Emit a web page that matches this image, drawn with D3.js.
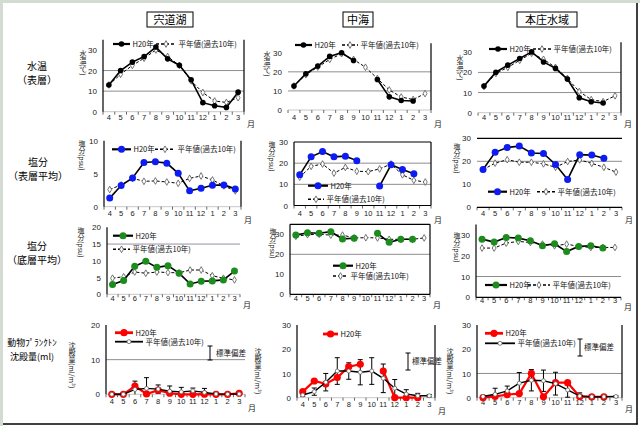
<!DOCTYPE html>
<html><head><meta charset="utf-8">
<script src="https://cdn.jsdelivr.net/npm/d3@7"></script>
<style>
html,body{margin:0;padding:0;background:#fff;}
svg{display:block;}
</style></head>
<body>
<svg id="chart" width="640" height="426"></svg>
<script>
// ---------- data ----------
const months = ["4","5","6","7","8","9","10","11","12","1","2","3"];
const areaNames = ["宍道湖","中海","本庄水域"];
const rowLabels = [["水温","（表層）"],["塩分","（表層平均）"],["塩分","（底層平均）"],["動物ﾌﾟﾗﾝｸﾄﾝ","沈殿量(ml)"]];
const yTitles = ["水温(℃)","塩分(psu)","塩分(psu)","沈殿量(ml/m³)"];
const legendThisYear = "H20年";
const legendNormal = "平年値(過去10年)";
const sdLabel = "標準偏差";
const monthUnit = "月";

// water temperature (surface)
const shinjiTempH20 = [13.0,20.0,24.1,26.8,31.4,25.7,22.6,15.5,4.4,2.9,2.1,9.5];
const shinjiTempAvg = [13.0,18.2,22.5,26.0,30.0,26.8,22.5,15.0,9.3,5.2,4.5,6.8];
const nakaumiTempH20 = [12.6,19.0,23.0,28.1,30.0,25.9,null,16.0,6.9,5.0,4.7,null];
const nakaumiTempAvg = [12.6,18.5,22.5,26.5,29.5,26.5,22.4,16.5,10.5,6.8,5.5,8.6];
const honjoTempH20 = [13.2,20.1,23.6,26.9,30.2,25.2,22.0,16.7,7.4,5.4,4.8,null];
const honjoTempAvg = [13.0,19.5,22.5,26.0,29.5,26.5,22.5,17.0,10.5,6.5,5.5,8.4];

// salinity (surface mean)
const shinjiSalSH20 = [1.3,3.2,4.35,6.7,6.8,6.6,5.05,2.4,2.8,3.25,3.3,2.7];
const shinjiSalSAvg = [2.6,3.3,4.3,3.85,3.9,3.75,3.55,4.3,4.65,4.05,3.15,2.4];
const nakaumiSalSH20 = [14.5,23.0,25.5,23.0,23.3,21.2,null,9.2,19.2,17.0,15.0,null];
const nakaumiSalSAvg = [13.4,18.5,19.6,15.3,18.0,16.2,16.0,17.3,19.6,14.5,11.9,11.1];
const honjoSalSH20 = [16.4,23.9,26.0,26.6,23.6,23.4,18.6,12.1,22.9,22.7,21.3,null];
const honjoSalSAvg = [16.4,19.2,20.7,19.6,19.6,18.9,17.4,19.9,20.6,19.1,17.4,15.3];

// salinity (bottom mean)
const shinjiSalBH20 = [2.9,4.1,8.4,9.85,8.05,8.55,6.3,3.1,3.9,4.0,4.3,6.95];
const shinjiSalBAvg = [4.8,5.25,6.65,6.3,6.65,6.5,6.4,7.25,7.25,5.55,4.8,4.3];
const nakaumiSalBH20 = [29.6,30.8,30.5,31.3,27.7,28.0,null,30.5,26.0,27.5,27.5,null];
const nakaumiSalBAvg = [29.0,29.8,30.0,29.6,29.6,28.2,28.3,28.2,27.5,27.5,27.5,28.2];
const honjoSalBH20 = [28.0,26.6,28.8,28.5,27.2,24.8,25.8,22.0,24.5,24.8,23.7,null];
const honjoSalBAvg = [23.7,23.7,26.1,26.9,26.4,25.6,24.8,25.6,24.5,24.0,24.0,24.0];

// zooplankton settled volume
const shinjiPlkH20 = [0,0,2.4,0.1,1.2,0.3,0,0,0.05,0,0,0.3];
const shinjiPlkAvg = [0,0,1.4,1.7,1.5,0.9,0.7,1.0,0.55,0.1,0.05,0.1];
const shinjiPlkSD  = [0,0,2.4,3.1,1.2,1.5,1.3,0.8,1.15,0.1,0.05,0.1];
const nakaumiPlkH20 = [2.5,6.9,5.7,8.3,12.8,13.8,null,11.0,0,0,0,null];
const nakaumiPlkAvg = [1.1,2.5,6.4,11.0,11.0,10.5,11.0,8.0,3.9,1.5,0.8,0.8];
const nakaumiPlkSD  = [0.5,1.5,3.6,5.5,3.4,5.2,5.5,5.9,3.6,1.8,1.0,0.5];
const honjoPlkH20 = [0,0.5,1.3,1.7,10.0,0.4,6.2,6.2,0.4,0.3,0.3,null];
const honjoPlkAvg = [0.5,1.4,2.8,6.0,7.2,7.0,5.8,3.2,0.7,0.4,0.4,0.5];
const honjoPlkSD  = [0.3,2.5,2.0,4.4,4.4,4.4,4.7,3.0,1.3,0.3,0.3,0.3];

// axis tick values
const ticksTemp = [0,10,20,30];
const ticksSal10 = [0,5,10];
const ticksSal30 = [0,10,20,30];
const ticksBot20 = [0,5,10,15,20];
const ticksPlk20 = [0,10,20];
const ticksPlk30 = [0,10,20,30];

// ---------- drawing ----------
const FONT = "'Noto Sans CJK JP','Liberation Sans',sans-serif";
const NUMFONT = "'Liberation Sans','Noto Sans',sans-serif";
const svg = d3.select("#chart");

// frame
svg.append("rect").attr("x",0).attr("y",0).attr("width",640).attr("height",426).attr("fill","#fff");
svg.append("rect").attr("x",0).attr("y",0).attr("width",640).attr("height",3).attr("fill","#d3dbd3");
svg.append("rect").attr("x",0).attr("y",0).attr("width",3).attr("height",426).attr("fill","#d3dbd3");
svg.append("line").attr("x1",637).attr("x2",637).attr("y1",3).attr("y2",424.5).attr("stroke","#000").attr("stroke-width",1.5);
svg.append("line").attr("x1",3).attr("x2",637.7).attr("y1",424).attr("y2",424).attr("stroke","#000").attr("stroke-width",1.5);

// column titles
const titleBoxes = [{x:147,y:12,w:46,h:15},{x:343,y:12,w:30,h:15},{x:517,y:12,w:60,h:15}];
areaNames.forEach((n,i)=>{
  const b = titleBoxes[i];
  svg.append("rect").attr("x",b.x).attr("y",b.y).attr("width",b.w).attr("height",b.h)
    .attr("fill","#fff").attr("stroke","#000").attr("stroke-width",1);
  svg.append("text").attr("x",b.x+b.w/2).attr("y",b.y+b.h/2+4).attr("text-anchor","middle")
    .attr("font-family",FONT).attr("font-size",11).text(n);
});

// row labels
const rowLabelPos = [{x:37,y:[66,80]},{x:38,y:[162,176]},{x:37,y:[246,260]},{x:32,y:[342,356]}];
rowLabels.forEach((l,i)=>{
  l.forEach((t,j)=>{
    svg.append("text").attr("x",rowLabelPos[i].x).attr("y",rowLabelPos[i].y[j]+3.5).attr("text-anchor","middle")
      .attr("font-family",FONT).attr("font-size",i===3?9:10).text(t);
  });
});

const styles = {
  temp:{color:"#000", r:2.8, line:"#000", lw:1.6, avgDash:"3,2", avgLw:1, avgMarker:"diamond"},
  salS:{color:"#0d1cf2", r:3.5, line:"#000", lw:1.6, avgDash:"3,2", avgLw:1, avgMarker:"diamond"},
  salB:{color:"#1c8c1c", r:3.5, line:"#000", lw:1.6, avgDash:"3,2", avgLw:1, avgMarker:"diamond"},
  plk:{color:"#ff0000", r:3.6, line:"#ff0000", lw:2.2, avgDash:null, avgLw:1.4, avgMarker:"circle"}
};

const panels = [
  // row 1
  {kind:"temp", h20:shinjiTempH20, avg:shinjiTempAvg, domain:[0,35], ticks:ticksTemp, x0:103,x1:244,yBot:111.7,yTop:39.7, grid:[10,20], borders:["left","right"], xLab:119, yt:{x:83,y:50,t:yTitles[0]},
   legend:[{x:113,y:44,len:17,s:0},{x:156,y:44,len:20,s:1}]},
  {kind:"temp", h20:nakaumiTempH20, avg:nakaumiTempAvg, domain:[0,35], ticks:ticksTemp, x0:288,x1:431,yBot:110,yTop:43.2, grid:[10,20], borders:["right"], xLab:119, yt:{x:267,y:51,t:yTitles[0]},
   legend:[{x:295,y:45,len:17,s:0},{x:342,y:45,len:16,s:1}]},
  {kind:"temp", h20:honjoTempH20, avg:honjoTempAvg, domain:[0,35], ticks:ticksTemp, x0:478,x1:621,yBot:112.7,yTop:42.2, grid:[10,20], borders:["right"], xLab:119, yt:{x:460,y:55,t:yTitles[0]},
   legend:[{x:489,y:49,len:18,s:0},{x:533,y:49,len:18,s:1}]},
  // row 2
  {kind:"salS", h20:shinjiSalSH20, avg:shinjiSalSAvg, domain:[0,10], ticks:ticksSal10, x0:104,x1:241,yBot:206.7,yTop:140.7, grid:[], borders:["left","right"], xLab:215, yt:{x:82,y:140,t:yTitles[1]},
   legend:[{x:112,y:149.3,len:19,s:0},{x:155,y:149.3,len:20,s:1}]},
  {kind:"salS", h20:nakaumiSalSH20, avg:nakaumiSalSAvg, domain:[0,30], ticks:ticksSal30, x0:294,x1:431,yBot:205.5,yTop:142, grid:[10,20], borders:["left","right","top","bottom"], xLab:215, yt:{x:272,y:141,t:yTitles[1]},
   legend:[{x:308,y:185.7,len:20,s:0},{x:308,y:199.3,len:16,s:1}]},
  {kind:"salS", h20:honjoSalSH20, avg:honjoSalSAvg, domain:[0,30], ticks:ticksSal30, x0:477,x1:622,yBot:207.3,yTop:138.3, grid:[20], borders:["top","bottom"], xLab:215, yt:{x:457,y:143,t:yTitles[1]},
   legend:[{x:488,y:191.7,len:19,s:0},{x:537,y:191.7,len:18,s:1}]},
  // row 3
  {kind:"salB", h20:shinjiSalBH20, avg:shinjiSalBAvg, domain:[0,20], ticks:ticksBot20, x0:107,x1:240,yBot:294.3,yTop:227.3, grid:[15], gridColor:"#9a8ea6", borders:["left"], xLab:300, yt:{x:81,y:227,t:yTitles[2]},
   legend:[{x:113,y:235.7,len:20,s:0},{x:113,y:249.3,len:17,s:1}]},
  {kind:"salB", h20:nakaumiSalBH20, avg:nakaumiSalBAvg, domain:[0,35], ticks:ticksSal30, x0:290,x1:430,yBot:294.3,yTop:224.3, grid:[20], borders:["left","right","top","bottom"], xLab:300, yt:{x:273,y:228,t:yTitles[2]},
   legend:[{x:333,y:265.7,len:20,s:0},{x:333,y:276,len:15,s:1}]},
  {kind:"salB", h20:honjoSalBH20, avg:honjoSalBAvg, domain:[0,35], ticks:ticksSal30, x0:476,x1:621,yBot:297.3,yTop:224.6, grid:[10], borders:["left","bottom"], xLab:302, yt:{x:457,y:232,t:yTitles[2]},
   legend:[{x:485,y:285,len:22,s:0},{x:528,y:285,len:22,s:1}]},
  // row 4
  {kind:"plk", h20:shinjiPlkH20, avg:shinjiPlkAvg, sd:shinjiPlkSD, domain:[0,20], ticks:ticksPlk20, x0:106,x1:245,yBot:394.3,yTop:325, grid:[10], borders:["left"], xLab:403, yt:{x:72,y:342,t:yTitles[3]},
   legend:[{x:115,y:332.7,len:18,s:0},{x:115,y:341.7,len:28,s:1}], sdLeg:{x:210,y1:346,y2:360,tx:216,ty:356}},
  {kind:"plk", h20:nakaumiPlkH20, avg:nakaumiPlkAvg, sd:nakaumiPlkSD, domain:[0,30], ticks:ticksPlk30, x0:297,x1:435,yBot:397.7,yTop:325, grid:[], borders:["left","right"], xLab:406, yt:{x:258,y:348,t:yTitles[3]},
   legend:[{x:323,y:334,len:15,s:0}], sdLeg:{x:408,y1:353,y2:370,tx:412,ty:364}},
  {kind:"plk", h20:honjoPlkH20, avg:honjoPlkAvg, sd:honjoPlkSD, domain:[0,30], ticks:ticksPlk30, x0:477,x1:622,yBot:397.7,yTop:325, grid:[10], borders:["left","right"], xLab:404, yt:{x:450,y:348,t:yTitles[3]},
   legend:[{x:485,y:333.3,len:18,s:0},{x:485,y:343.3,len:30,s:1}], sdLeg:{x:580,y1:339,y2:356,tx:584,ty:350}}
];

function drawMarker(g, series, cx, cy, st){
  if(series===0){
    g.append("circle").attr("cx",cx).attr("cy",cy).attr("r",st.r).attr("fill",st.color);
  } else if(st.avgMarker==="diamond"){
    g.append("path").attr("d",d3.symbol(d3.symbolDiamond,13)()).attr("transform",`translate(${cx},${cy})`)
      .attr("fill","#fff").attr("stroke","#555").attr("stroke-width",0.8);
  } else {
    g.append("circle").attr("cx",cx).attr("cy",cy).attr("r",2).attr("fill","#fff").attr("stroke","#666").attr("stroke-width",0.8);
  }
}

panels.forEach(p=>{
  const st = styles[p.kind];
  const g = svg.append("g");
  const x = d3.scaleBand().domain(months).range([p.x0,p.x1]);
  const y = d3.scaleLinear().domain(p.domain).range([p.yBot,p.yTop]);
  const cx = m => x(m)+x.bandwidth()/2;

  // gridlines
  p.grid.forEach(v=>{
    g.append("line").attr("x1",p.x0).attr("x2",p.x1).attr("y1",y(v)).attr("y2",y(v))
      .attr("stroke",p.gridColor||"#8e8e8e").attr("stroke-width",1);
  });
  // baseline (faint) + ticks between categories
  if(!p.borders.includes("bottom")){
    g.append("line").attr("x1",p.x0).attr("x2",p.x1).attr("y1",p.yBot).attr("y2",p.yBot).attr("stroke","#c8c8c8").attr("stroke-width",1);
  }
  months.forEach(m=>{
    g.append("line").attr("x1",x(m)).attr("x2",x(m)).attr("y1",p.yBot).attr("y2",p.yBot+3).attr("stroke","#444").attr("stroke-width",0.8);
  });
  g.append("line").attr("x1",p.x1).attr("x2",p.x1).attr("y1",p.yBot).attr("y2",p.yBot+3).attr("stroke","#444").attr("stroke-width",0.8);

  // borders
  const bl = {left:[p.x0,p.yTop,p.x0,p.yBot], right:[p.x1,p.yTop,p.x1,p.yBot], top:[p.x0,p.yTop,p.x1,p.yTop], bottom:[p.x0,p.yBot,p.x1,p.yBot]};
  p.borders.forEach(b=>{
    const c = bl[b];
    g.append("line").attr("x1",c[0]).attr("y1",c[1]).attr("x2",c[2]).attr("y2",c[3]).attr("stroke","#000").attr("stroke-width",1.2);
  });

  // y axis labels
  const ya = d3.axisLeft(y).tickValues(p.ticks).tickSize(0).tickPadding(6);
  const yg = g.append("g").attr("transform",`translate(${p.x0},0)`).call(ya);
  yg.select(".domain").remove();
  yg.selectAll("text").attr("font-family",NUMFONT).attr("font-size",8).attr("fill","#222");

  // x axis labels
  const xa = d3.axisBottom(x).tickSize(0).tickPadding(0);
  const xg = g.append("g").attr("transform",`translate(0,${p.xLab-4})`).call(xa);
  xg.select(".domain").remove();
  xg.selectAll("text").attr("font-family",NUMFONT).attr("font-size",7.5).attr("fill","#222");
  g.append("text").attr("x",p.x1+3).attr("y",p.xLab+8).attr("font-family",FONT).attr("font-size",8).attr("fill","#222").text(monthUnit);

  // y title (vertical)
  g.append("text").attr("x",p.yt.x).attr("y",p.yt.y).attr("font-family",FONT).attr("font-size",7)
    .style("writing-mode","vertical-rl").style("text-orientation","mixed").attr("fill","#222").text(p.yt.t);

  // error bars
  if(p.sd){
    p.avg.forEach((v,i)=>{
      const s = p.sd[i]; if(v==null||!s) return;
      const hi = Math.min(v+s,p.domain[1]), lo = Math.max(v-s,p.domain[0]);
      const xx = cx(months[i]);
      g.append("line").attr("x1",xx).attr("x2",xx).attr("y1",y(hi)).attr("y2",y(lo)).attr("stroke","#000").attr("stroke-width",1);
      g.append("line").attr("x1",xx-2.5).attr("x2",xx+2.5).attr("y1",y(v+s)).attr("y2",y(v+s)).attr("stroke","#000").attr("stroke-width",1);
      if(v-s>p.domain[0]) g.append("line").attr("x1",xx-2.5).attr("x2",xx+2.5).attr("y1",y(v-s)).attr("y2",y(v-s)).attr("stroke","#000").attr("stroke-width",1);
    });
  }

  const lineGen = d3.line().defined(d=>d.v!=null).x(d=>cx(d.m)).y(d=>y(d.v));
  const h20 = p.h20.map((v,i)=>({m:months[i],v}));
  const avg = p.avg.map((v,i)=>({m:months[i],v}));

  const drawH20 = ()=>{
    g.append("path").datum(h20).attr("d",lineGen).attr("fill","none").attr("stroke",st.line).attr("stroke-width",st.lw);
    h20.filter(d=>d.v!=null).forEach(d=>drawMarker(g,0,cx(d.m),y(d.v),st));
  };
  const drawAvg = ()=>{
    const pa = g.append("path").datum(avg).attr("d",lineGen).attr("fill","none").attr("stroke","#000").attr("stroke-width",st.avgLw);
    if(st.avgDash) pa.attr("stroke-dasharray",st.avgDash);
    avg.filter(d=>d.v!=null).forEach(d=>drawMarker(g,1,cx(d.m),y(d.v),st));
  };
  if(p.kind==="plk"){ drawH20(); drawAvg(); } else { drawAvg(); drawH20(); }

  // legend
  p.legend.forEach(L=>{
    const ln = g.append("line").attr("x1",L.x).attr("x2",L.x+L.len).attr("y1",L.y).attr("y2",L.y);
    if(L.s===0){
      ln.attr("stroke",st.line).attr("stroke-width",st.lw+0.6);
    } else {
      ln.attr("stroke","#000").attr("stroke-width",st.avgLw+0.4);
      if(st.avgDash) ln.attr("stroke-dasharray",st.avgDash);
    }
    drawMarker(g,L.s,L.x+L.len/2,L.y,st);
    g.append("text").attr("x",L.x+L.len+2.5).attr("y",L.y+2.8).attr("font-family",FONT).attr("font-size",7.5)
      .attr("fill","#111").text(L.s===0?legendThisYear:legendNormal);
  });
  if(p.sdLeg){
    const S = p.sdLeg;
    g.append("line").attr("x1",S.x).attr("x2",S.x).attr("y1",S.y1).attr("y2",S.y2).attr("stroke","#000").attr("stroke-width",1);
    g.append("line").attr("x1",S.x-2.5).attr("x2",S.x+2.5).attr("y1",S.y1).attr("y2",S.y1).attr("stroke","#000").attr("stroke-width",1);
    g.append("line").attr("x1",S.x-2.5).attr("x2",S.x+2.5).attr("y1",S.y2).attr("y2",S.y2).attr("stroke","#000").attr("stroke-width",1);
    g.append("text").attr("x",S.tx).attr("y",S.ty).attr("font-family",FONT).attr("font-size",7.5).attr("fill","#111").text(sdLabel);
  }
});
</script>
</body></html>
